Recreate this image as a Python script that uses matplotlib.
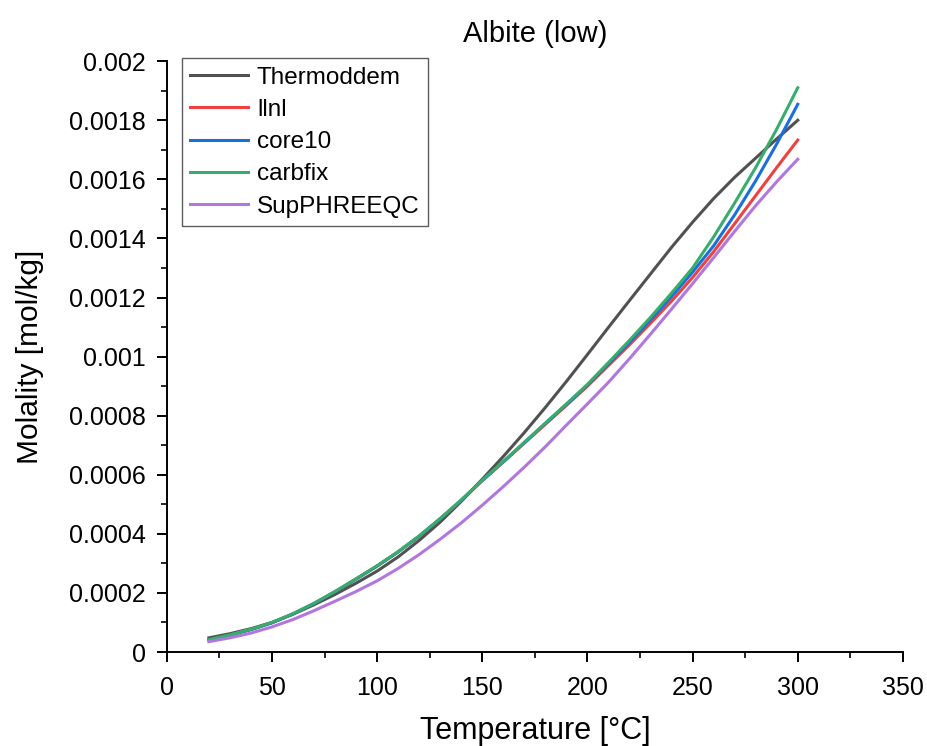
import matplotlib
matplotlib.use("Agg")
import matplotlib.pyplot as plt
from matplotlib.ticker import MultipleLocator, FuncFormatter

plt.rcParams['font.family'] = ['Liberation Sans', 'DejaVu Sans']

temperature = [20, 30, 40, 50, 60, 70, 80, 90, 100, 110, 120, 130, 140, 150, 160,
               170, 180, 190, 200, 210, 220, 230, 240, 250, 260, 270, 280, 290, 300]

thermoddem = [0.000048, 0.000062, 0.000079, 0.000100, 0.000128, 0.000160, 0.000195,
              0.000233, 0.000274, 0.000322, 0.000378, 0.000440, 0.000510, 0.000585,
              0.000662, 0.000743, 0.000828, 0.000916, 0.001007, 0.001099, 0.001190,
              0.001280, 0.001370, 0.001455, 0.001535, 0.001607, 0.001672, 0.001737,
              0.001800]
llnl = [0.000041, 0.000057, 0.000076, 0.000099, 0.000129, 0.000164, 0.000204,
        0.000247, 0.000291, 0.000339, 0.000392, 0.000451, 0.000513, 0.000580,
        0.000643, 0.000707, 0.000771, 0.000835, 0.000900, 0.000970, 0.001040,
        0.001113, 0.001188, 0.001268, 0.001355, 0.001450, 0.001545, 0.001640,
        0.001733]
core10 = [0.000041, 0.000057, 0.000076, 0.000099, 0.000129, 0.000164, 0.000204,
          0.000247, 0.000291, 0.000339, 0.000392, 0.000451, 0.000514, 0.000581,
          0.000644, 0.000709, 0.000774, 0.000838, 0.000903, 0.000975, 0.001048,
          0.001124, 0.001203, 0.001286, 0.001375, 0.001480, 0.001595, 0.001720,
          0.001854]
carbfix = [0.000042, 0.000058, 0.000077, 0.000100, 0.000130, 0.000165, 0.000205,
           0.000248, 0.000292, 0.000340, 0.000393, 0.000452, 0.000515, 0.000582,
           0.000645, 0.000710, 0.000775, 0.000840, 0.000906, 0.000980, 0.001055,
           0.001133, 0.001215, 0.001300, 0.001405, 0.001520, 0.001640, 0.001770,
           0.001910]
supphreeqc = [0.000035, 0.000048, 0.000064, 0.000085, 0.000110, 0.000140, 0.000172,
              0.000205, 0.000241, 0.000283, 0.000330, 0.000382, 0.000437, 0.000497,
              0.000560, 0.000626, 0.000695, 0.000768, 0.000840, 0.000913, 0.000993,
              0.001076, 0.001161, 0.001247, 0.001335, 0.001424, 0.001511, 0.001592,
              0.001668]

series = [
    ("Thermoddem", thermoddem, "#515151"),
    ("llnl", llnl, "#F14040"),
    ("core10", core10, "#1A6FDF"),
    ("carbfix", carbfix, "#37AD6B"),
    ("SupPHREEQC", supphreeqc, "#B177DE"),
]

fig = plt.figure(figsize=(9.27, 7.46), dpi=100)
ax = fig.add_axes([0.180, 0.126, 0.794, 0.792])

for label, values, color in series:
    ax.plot(temperature, values, color=color, linewidth=2.2, label=label,
            solid_joinstyle="round")

ax.set_xlim(0, 350)
ax.set_ylim(0, 0.002)
ax.xaxis.set_major_locator(MultipleLocator(50))
ax.xaxis.set_minor_locator(MultipleLocator(25))
ax.yaxis.set_major_locator(MultipleLocator(0.0002))
ax.yaxis.set_minor_locator(MultipleLocator(0.0001))
ax.yaxis.set_major_formatter(FuncFormatter(lambda v, p: f"{round(v, 5):g}"))

for side in ["top", "right"]:
    ax.spines[side].set_visible(False)
for side in ["left", "bottom"]:
    ax.spines[side].set_linewidth(1.4)

ax.tick_params(which="major", direction="out", length=7, width=1.4, labelsize=18)
ax.tick_params(which="minor", direction="out", length=4, width=1.2)
ax.tick_params(axis="x", pad=10)
ax.tick_params(axis="y", pad=8)

ax.set_xlabel("Temperature [°C]", fontsize=22, labelpad=12)
ax.set_ylabel("Molality [mol/kg]", fontsize=21.5, labelpad=18)
ax.set_title("Albite (low)", fontsize=21, pad=14)

leg = ax.legend(loc="upper left", bbox_to_anchor=(0.02, 1.005), fontsize=17.5,
                frameon=True, fancybox=False, edgecolor="#333333",
                handlelength=2.4, handletextpad=0.35, labelspacing=0.42,
                borderpad=0.35, borderaxespad=0)
leg.get_frame().set_linewidth(1.0)

fig.savefig("out.png", dpi=100)
